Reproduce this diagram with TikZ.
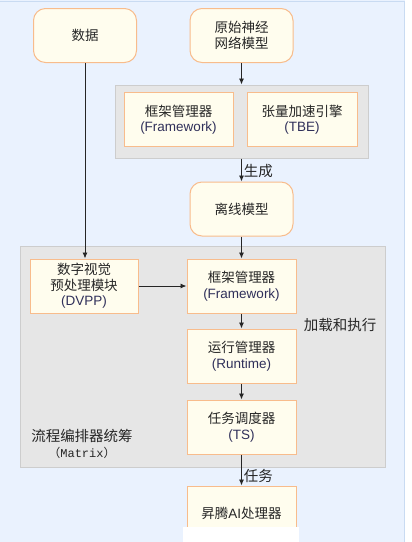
\documentclass[tikz,border=0pt]{standalone}
\usepackage{fontspec}
\setmainfont{Liberation Sans}
\newfontfamily\cjk{Noto Sans CJK SC}
\newfontfamily\mono{Liberation Mono}
\usetikzlibrary{arrows.meta}
\definecolor{bgblue}{HTML}{EAF2FE}
\definecolor{bgline}{HTML}{C9DBF2}
\definecolor{boxgray}{HTML}{E6E6E6}
\definecolor{grayline}{HTML}{CDCDCD}
\definecolor{nodefill}{HTML}{FFFDEE}
\definecolor{nodeline}{HTML}{F8BC8C}
\definecolor{engtext}{HTML}{30305A}

\begin{document}
\begin{tikzpicture}[x=1pt,y=-1pt,
  blk/.style={draw=nodeline,fill=nodefill,line width=1pt,text=black!85,
    minimum width=109pt,minimum height=54pt,inner sep=0pt,align=center,
    font=\fontsize{13.5}{15.5}\selectfont},
  rblk/.style={blk,rounded corners=12pt,minimum width=103pt},
  grp/.style={draw=grayline,fill=boxgray,line width=1pt,inner sep=0pt},
  arr/.style={-{Latex[length=6pt,width=5pt]},line width=0.9pt,black!85},
  lbl/.style={text=black!85,font=\cjk\fontsize{14.5}{15.5}\selectfont}]
\useasboundingbox (0,0) rectangle (412,542);
\fill[white] (0,0) rectangle (412,542);
\fill[bgblue] (0,0) rectangle (405,542);
\draw[bgline,line width=1.2pt] (0,1.5) -- (404.5,1.5) -- (404.5,542);
% grey groups
\node[grp,minimum width=253pt,minimum height=73pt] (build) at (241.5,121.5) {};
\node[grp,minimum width=365pt,minimum height=221pt] (run) at (202.5,356.5) {};
% top row
\node[rblk] (data) at (85,35.5) {\cjk 数据};
\node[rblk] (model) at (241.5,35.5) {{\cjk 原始神经}\\{\cjk 网络模型}};
% build group
\node[blk] (fw1) at (178.5,119.5) {{\cjk 框架管理器}\\\textcolor{engtext}{(Framework)}};
\node[blk,minimum width=110pt] (tbe) at (302,119.5) {{\cjk 张量加速引擎}\\\textcolor{engtext}{(TBE)}};
\node[rblk] (offline) at (241.5,209) {\cjk 离线模型};
% run group
\node[blk,minimum width=108pt] (dvpp) at (84,286) {{\cjk 数字视觉}\\{\cjk 预处理模块}\\\textcolor{engtext}{(DVPP)}};
\node[blk] (fw2) at (241.5,286) {{\cjk 框架管理器}\\\textcolor{engtext}{(Framework)}};
\node[blk] (rt) at (241.5,356) {{\cjk 运行管理器}\\\textcolor{engtext}{(Runtime)}};
\node[blk] (ts) at (241.5,427) {{\cjk 任务调度器}\\\textcolor{engtext}{(TS)}};
\node[blk] (ai) at (241.5,513) {{\cjk 昇腾}AI{\cjk 处理器}};
\node[lbl] (load) at (340,325) {加载和执行};
\node[lbl,align=center] (matrix) at (82,444) {{\cjk 流程编排器统筹}\\{\cjk\fontsize{12}{14}\selectfont （{\mono Matrix}）}};
% watermark patch
\fill[white] (183,527) rectangle (299,542);
% connectors
\draw[arr] (model) -- (build);
\draw[arr] (build) -- node[lbl,right,pos=0.55,inner sep=2pt] {生成} (offline);
\draw[arr] (offline) -- (fw2);
\draw[arr] (data) -- (data |- dvpp.north);
\draw[arr] (dvpp) -- (fw2);
\draw[arr] (fw2) -- (rt);
\draw[arr] (rt) -- (ts);
\draw[arr] (ts) -- node[lbl,right,pos=0.7,inner sep=2pt] {任务} (ai);
\end{tikzpicture}
\end{document}
